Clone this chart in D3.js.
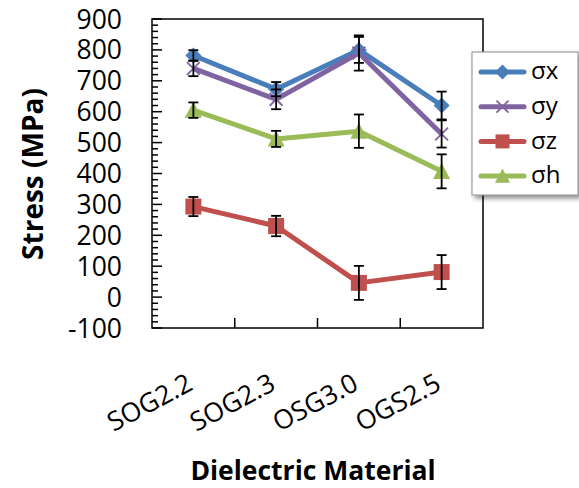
<!DOCTYPE html>
<html><head><meta charset="utf-8">
<script src="https://cdn.jsdelivr.net/npm/d3@7"></script>
<style>html,body{margin:0;padding:0;background:#fff;} svg{display:block;}</style>
</head><body>
<svg id="c" width="579" height="488"></svg>
<script>
const categories = ["SOG2.2", "SOG2.3", "OSG3.0", "OGS2.5"];
const seriesNames = ["σx", "σy", "σz", "σh"];
const sx = [782, 673, 800, 620];
const sxErr = [17, 23, 42, 45];
const sy = [740, 640, 790, 528];
const syErr = [25, 32, 57, 44];
const sz = [293, 230, 46, 81];
const szErr = [31, 33, 55, 55];
const sh = [605, 512, 537, 407];
const shErr = [25, 26, 54, 55];
const yTicks = [-100, 0, 100, 200, 300, 400, 500, 600, 700, 800, 900];

const colors = ["#4A7EBB", "#8064A2", "#C0504D", "#9BBB59"];
const markers = ["diamond", "cross", "square", "triangle"];
const series = [
  {name: seriesNames[0], values: sx, err: sxErr},
  {name: seriesNames[1], values: sy, err: syErr},
  {name: seriesNames[2], values: sz, err: szErr},
  {name: seriesNames[3], values: sh, err: shErr}
];

const svg = d3.select("#c");
const L = 152, R = 483, T = 19, B = 328;
const x = d3.scaleBand().domain(categories).range([L, R]);
const y = d3.scaleLinear().domain([-100, 900]).range([B, T]);
const font = "'Open Sans', 'Liberation Sans', sans-serif";

// frame
svg.append("rect").attr("x", L).attr("y", T).attr("width", R - L).attr("height", B - T)
  .attr("fill", "none").attr("stroke", "#000").attr("stroke-width", 1.5);

// y axis ticks (major every 100, minor every 20)
const minor = d3.range(-100, 901, 20);
svg.append("g").selectAll("line").data(minor).join("line")
  .attr("x1", L).attr("x2", d => (d % 100 === 0) ? L + 10 : L + 6)
  .attr("y1", d => y(d)).attr("y2", d => y(d))
  .attr("stroke", "#000").attr("stroke-width", 1.5);

// y tick labels
svg.append("g").selectAll("text").data(yTicks).join("text")
  .attr("x", 122).attr("y", d => y(d)).attr("dy", "0.36em")
  .attr("text-anchor", "end").attr("font-family", font).attr("font-size", 26.5)
  .text(d => d);

// x ticks (band boundaries)
const bounds = categories.slice(1).map(c => x(c));
svg.append("g").selectAll("line").data(bounds).join("line")
  .attr("x1", d => d).attr("x2", d => d).attr("y1", B).attr("y2", B - 10)
  .attr("stroke", "#000").attr("stroke-width", 1.5);

// x tick labels
svg.append("g").selectAll("text").data(categories).join("text")
  .attr("transform", d => `translate(${x(d) + x.bandwidth() / 2 + 1},389) rotate(-28)`)
  .attr("text-anchor", "end").attr("font-family", font).attr("font-size", 26.5)
  .text(d => d);

// titles
svg.append("text").attr("transform", "translate(43,174) rotate(-90)")
  .attr("text-anchor", "middle").attr("font-family", font).attr("font-weight", "bold")
  .attr("font-size", 28).text("Stress (MPa)");
svg.append("text").attr("x", 313).attr("y", 480)
  .attr("text-anchor", "middle").attr("font-family", font).attr("font-weight", "bold")
  .attr("font-size", 26.5).text("Dielectric Material");

const cx = d => x(d) + x.bandwidth() / 2;
const line = d3.line().x(d => cx(d.c)).y(d => y(d.v));

function drawMarker(g, type, color, px, py, s) {
  if (type === "diamond") {
    g.append("path").attr("d", `M${px},${py - s}L${px + s},${py}L${px},${py + s}L${px - s},${py}Z`).attr("fill", color);
  } else if (type === "square") {
    g.append("rect").attr("x", px - s).attr("y", py - s).attr("width", 2 * s).attr("height", 2 * s).attr("fill", color);
  } else if (type === "triangle") {
    g.append("path").attr("d", `M${px},${py - s}L${px + s},${py + s * 0.9}L${px - s},${py + s * 0.9}Z`).attr("fill", color);
  } else {
    const k = s * 0.8;
    g.append("path").attr("d", `M${px - k},${py - k}L${px + k},${py + k}M${px - k},${py + k}L${px + k},${py - k}`)
      .attr("stroke", color).attr("stroke-width", 1.8).attr("fill", "none");
  }
}
const sizes = [8, 8, 8, 8.5];

series.forEach((s, i) => {
  const pts = categories.map((c, j) => ({c, v: s.values[j], e: s.err[j]}));
  svg.append("path").datum(pts).attr("d", line).attr("fill", "none")
    .attr("stroke", colors[i]).attr("stroke-width", 5).attr("stroke-linejoin", "round");
});
series.forEach((s, i) => {
  const g = svg.append("g");
  categories.forEach((c, j) => drawMarker(g, markers[i], colors[i], cx(c), y(s.values[j]), sizes[i]));
});
series.forEach((s, i) => {
  const g = svg.append("g").attr("stroke", "#000").attr("stroke-width", 1.8);
  categories.forEach((c, j) => {
    const px = cx(c), hi = y(s.values[j] + s.err[j]), lo = y(s.values[j] - s.err[j]);
    g.append("line").attr("x1", px).attr("x2", px).attr("y1", hi).attr("y2", lo);
    g.append("line").attr("x1", px - 5).attr("x2", px + 5).attr("y1", hi).attr("y2", hi);
    g.append("line").attr("x1", px - 5).attr("x2", px + 5).attr("y1", lo).attr("y2", lo);
  });
});

// legend
const defs = svg.append("defs");
const f = defs.append("filter").attr("id", "sh").attr("x", "-20%").attr("y", "-20%").attr("width", "150%").attr("height", "150%");
f.append("feGaussianBlur").attr("in", "SourceAlpha").attr("stdDeviation", 2.5);
f.append("feOffset").attr("dx", 3).attr("dy", 3).attr("result", "b");
f.append("feComponentTransfer").append("feFuncA").attr("type", "linear").attr("slope", 0.45);
const fm = f.append("feMerge"); fm.append("feMergeNode"); fm.append("feMergeNode").attr("in", "SourceGraphic");
const lg = svg.append("g");
lg.append("rect").attr("x", 472).attr("y", 52).attr("width", 106).attr("height", 143)
  .attr("fill", "#fff").attr("stroke", "#8c8c8c").attr("stroke-width", 1).attr("filter", "url(#sh)");
series.forEach((s, i) => {
  const ly = 72 + i * 34.7;
  lg.append("line").attr("x1", 481).attr("x2", 524).attr("y1", ly).attr("y2", ly)
    .attr("stroke", colors[i]).attr("stroke-width", 5).attr("stroke-linecap", "round");
  drawMarker(lg, markers[i], colors[i], 502.5, ly, i === 2 ? 7 : 7.5);
  lg.append("text").attr("x", 531).attr("y", ly).attr("dy", "0.3em")
    .attr("font-family", font).attr("font-size", 24).text(s.name);
});
</script>
</body></html>
